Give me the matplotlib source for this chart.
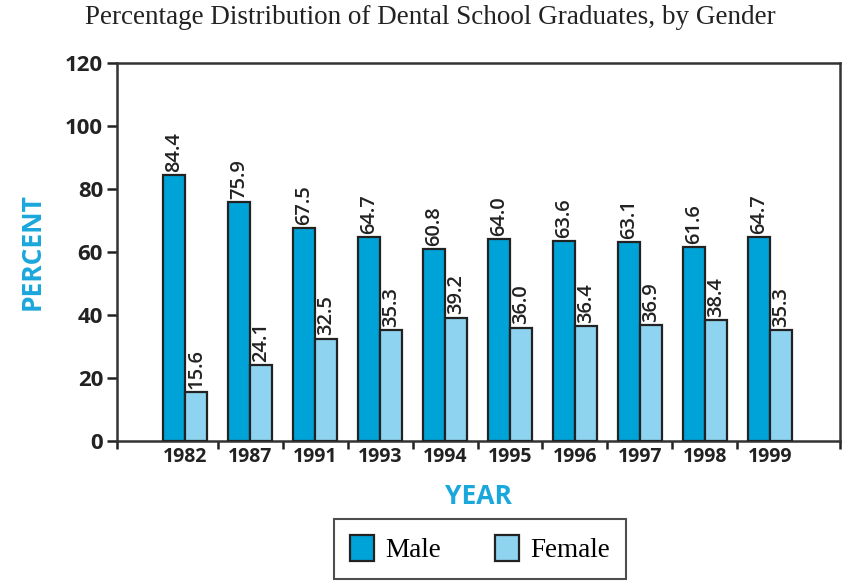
import matplotlib
matplotlib.use("Agg")
import matplotlib.pyplot as plt
from matplotlib.patches import Patch
import numpy as np

years = ["1982", "1987", "1991", "1993", "1994", "1995", "1996", "1997", "1998", "1999"]
male = [84.4, 75.9, 67.5, 64.7, 60.8, 64.0, 63.6, 63.1, 61.6, 64.7]
female = [15.6, 24.1, 32.5, 35.3, 39.2, 36.0, 36.4, 36.9, 38.4, 35.3]
yticks = [0, 20, 40, 60, 80, 100, 120]

male_c = "#00A3D8"
female_c = "#8ED3EF"
label_c = "#1AA7DC"
edge_c = "#222222"
sans = "Open Sans"
serif = "Liberation Serif"

fig = plt.figure(figsize=(8.42, 5.82), dpi=100)
ax = fig.add_axes([117/842, 1-441/582, (840-117)/842, (441-63)/582])

x = np.arange(len(years))
w = 0.34
ax.bar(x - w/2, male, w, color=male_c, edgecolor=edge_c, linewidth=1.6, zorder=3)
ax.bar(x + w/2, female, w, color=female_c, edgecolor=edge_c, linewidth=1.6, zorder=3)

for xi, v in zip(x - w/2, male):
    ax.text(xi, v + 1.0, f"{v:.1f}", rotation=90, ha="center", va="bottom",
            fontsize=14.5, fontweight="semibold", family=sans, color="#222222")
for xi, v in zip(x + w/2, female):
    ax.text(xi, v + 1.0, f"{v:.1f}", rotation=90, ha="center", va="bottom",
            fontsize=14.5, fontweight="semibold", family=sans, color="#222222")

ax.set_xlim(-1.05, 10.08)
ax.set_ylim(0, 120)
ax.set_yticks(yticks)
ax.set_yticklabels([str(t) for t in yticks], fontsize=16, fontweight="bold", family=sans, color="#222222")
ax.set_xticks(x)
ax.set_xticklabels(years, fontsize=14, fontweight="bold", family=sans, color="#222222")
ax.tick_params(axis="x", which="major", length=0, pad=4)
ax.set_xticks(list(np.arange(len(years) - 1) + 0.5) + [-1.05, 10.08], minor=True)
ax.tick_params(axis="x", which="minor", length=6, width=1.8, direction="out", color=edge_c)
ax.tick_params(axis="y", length=7, width=1.8, direction="out", color=edge_c, pad=3)

for s in ax.spines.values():
    s.set_linewidth(1.8)
    s.set_color("#333333")

ax.set_ylabel("PERCENT", fontsize=19, fontweight="bold", family=sans, color=label_c, labelpad=14)
ax.set_xlabel("YEAR", fontsize=19, fontweight="bold", family=sans, color=label_c, labelpad=12)

fig.suptitle("Percentage Distribution of Dental School Graduates, by Gender",
             x=430/842, y=1-18/582, va="center", fontsize=19.5, family=serif, color="#222222")

handles = [Patch(facecolor=male_c, edgecolor=edge_c, linewidth=1.6, label="Male"),
           Patch(facecolor=female_c, edgecolor=edge_c, linewidth=1.6, label="Female")]
leg = fig.legend(handles=handles, loc="center", bbox_to_anchor=(480/842, 1-549/582), ncol=2,
                 frameon=True, fancybox=False, edgecolor="#222222", handlelength=0.9, handleheight=1.1,
                 columnspacing=2.0, handletextpad=0.4, borderpad=0.6,
                 prop={"family": serif, "size": 19.5})
leg.get_frame().set_linewidth(1.5)

fig.savefig("out.png", dpi=100)
